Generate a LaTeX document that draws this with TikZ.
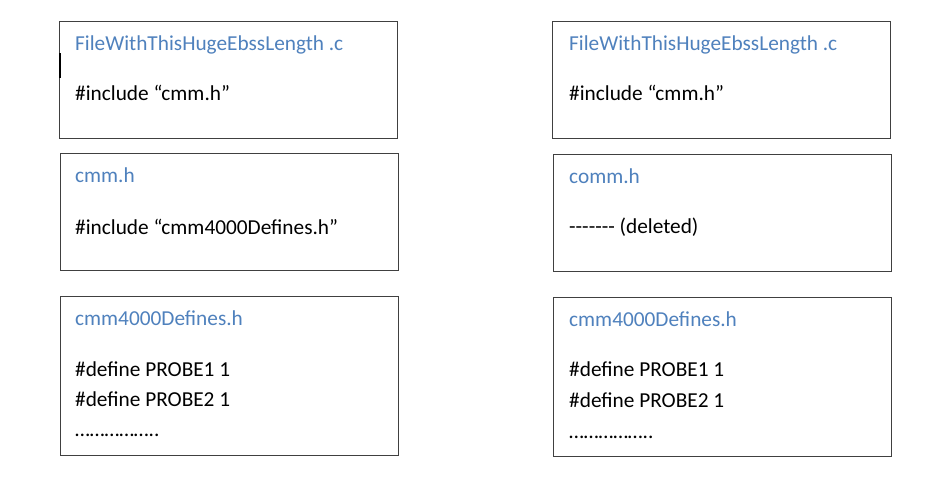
\documentclass[tikz,border=0pt]{standalone}
\usepackage{fontspec}
\setmainfont{Carlito}
\definecolor{titleblue}{RGB}{79,129,189}
\definecolor{boxline}{RGB}{64,64,64}
\tikzset{
  filebox/.style={draw=boxline, line width=1pt, fill=white},
  ttl/.style={anchor=base west, inner sep=0pt, text=titleblue, font=\fontsize{21.3}{25}\selectfont},
  txt/.style={anchor=base west, inner sep=0pt, text=black, font=\fontsize{21.3}{25}\selectfont},
}
\begin{document}
\begin{tikzpicture}[x=1pt,y=-1pt]
\useasboundingbox (0,0) rectangle (925,482);
% left column
\draw[filebox] (59,21) rectangle (397,138);
\draw[filebox] (60,153) rectangle (398,270);
\draw[filebox] (60,296) rectangle (398,455);
% right column
\draw[filebox] (552,21) rectangle (890,138);
\draw[filebox] (553,154) rectangle (891,271);
\draw[filebox] (553,297) rectangle (891,456);
% cursor mark
\draw[line width=1.5pt] (60,53) -- (60,78);
% left texts
\node[ttl] (lt1) at (75,50) {FileWithThisHugeEbssLength .c};
\node[txt] (lb1) at (75,100) {\#include “cmm.h”};
\node[ttl] (lt2) at (75,182) {cmm.h};
\node[txt] (lb2) at (75,234) {\#include “cmm4000Defines.h”};
\node[ttl] (lt3) at (75,325) {cmm4000Defines.h};
\node[txt] (ld1) at (75,376) {\#define PROBE1 1};
\node[txt] (ld2) at (75,406) {\#define PROBE2 1};
\node[txt] (ld3) at (75,436) {……………..};
% right texts
\node[ttl] (rt1) at (569,50) {FileWithThisHugeEbssLength .c};
\node[txt] (rb1) at (569,100) {\#include “cmm.h”};
\node[ttl] (rt2) at (569,183) {comm.h};
\node[txt] (rb2) at (569,233) {{-}{-}{-}{-}{-}{-}{-} (deleted)};
\node[ttl] (rt3) at (569,326) {cmm4000Defines.h};
\node[txt] (rd1) at (569,376) {\#define PROBE1 1};
\node[txt] (rd2) at (569,407) {\#define PROBE2 1};
\node[txt] (rd3) at (569,438) {……………..};
\end{tikzpicture}
\end{document}
